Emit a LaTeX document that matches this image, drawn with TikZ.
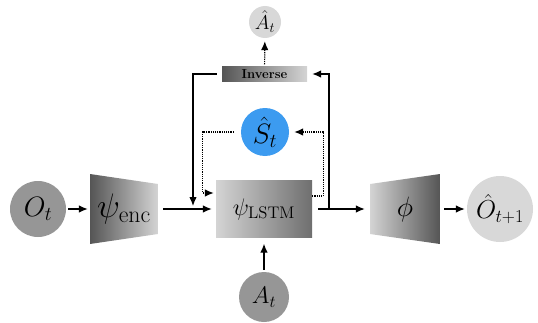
\documentclass[tikz,border=0pt]{standalone}
\usepackage{fix-cm}
\usepackage{amsmath}
\usepackage{tikz}
\usetikzlibrary{arrows.meta}
\definecolor{darkgrey}{RGB}{85,85,85}
\definecolor{lightgrey}{RGB}{212,212,212}
\definecolor{midgrey}{RGB}{150,150,150}
\definecolor{palegrey}{RGB}{216,216,216}
\definecolor{stateblue}{RGB}{60,155,240}
\tikzset{
	main node/.style={circle,fill=midgrey,inner sep=0pt},
	pale node/.style={circle,fill=palegrey,inner sep=0pt},
	box node/.style={rectangle,inner sep=0pt},
	link/.style={->,line width=1.2pt},
	dotlink/.style={->,line width=1.2pt,densely dotted}
}

\begin{document}
\begin{tikzpicture}[x=1pt,y=1pt,>={Latex[length=9pt,width=7.5pt]}]
  \useasboundingbox (0,0) rectangle (538,322);
  \node [main node,minimum size=56pt] (Ot) at (38,113) {\fontsize{28}{30}\selectfont$O_t$};
  \node [box node,minimum width=68pt,minimum height=70pt,
         path picture={\shade[left color=darkgrey,right color=lightgrey]
           (path picture bounding box.north west) -- ([yshift=-10pt]path picture bounding box.north east)
           -- ([yshift=10pt]path picture bounding box.south east) -- (path picture bounding box.south west) -- cycle;}]
        (enc) at (124,113) {\fontsize{34}{36}\selectfont$\psi_{\mathrm{enc}}$};
  \node [box node,minimum width=96pt,minimum height=57pt,left color=lightgrey,right color=darkgrey!80!lightgrey]
        (lstm) at (264,113) {\fontsize{24}{26}\selectfont$\psi_{\mathrm{LSTM}}$};
  \node [box node,minimum width=70pt,minimum height=70pt,
         path picture={\shade[left color=lightgrey,right color=darkgrey]
           ([yshift=-10pt]path picture bounding box.north west) -- (path picture bounding box.north east)
           -- (path picture bounding box.south east) -- ([yshift=10pt]path picture bounding box.south west) -- cycle;}]
        (phi) at (405,113) {\fontsize{28}{30}\selectfont$\phi$};
  \node [pale node,minimum size=66pt] (Ohat) at (500,113) {\fontsize{26}{28}\selectfont$\hat{O}_{t+1}$};
  \node [main node,minimum size=50pt] (At) at (264,25) {\fontsize{24}{26}\selectfont$A_t$};
  \node [circle,fill=stateblue,inner sep=0pt,minimum size=48pt] (Shat) at (265,190) {\fontsize{28}{30}\selectfont$\hat{S}_t$};
  \node [box node,minimum width=85pt,minimum height=15pt,left color=darkgrey,right color=lightgrey]
        (inv) at (264.5,248) {\fontsize{13}{14}\selectfont\textbf{Inverse}};
  \node [pale node,minimum size=32pt] (Ahat) at (265,300) {\fontsize{20}{22}\selectfont$\hat{A}_t$};
  \coordinate (merge) at (193,116);
  \coordinate (split) at (329,113);
  % main path
  \draw [link,shorten <=2pt,shorten >=2pt] (Ot) -- (enc);
  \draw [link,shorten <=5pt,shorten >=4pt] (enc) -- (lstm);
  \draw [link,shorten <=6pt,shorten >=5pt] (lstm) -- (phi);
  \draw [link,shorten <=4pt,shorten >=2pt] (phi) -- (Ohat);
  \draw [link,shorten <=2pt,shorten >=6pt] (At) -- (lstm);
  % inverse model
  \draw [link,shorten <=5pt] (inv.west) -| (merge);
  \draw [link,shorten >=5pt] (split) |- (inv.east);
  \draw [dotlink,shorten <=2pt,shorten >=3pt] (inv) -- (Ahat);
  % recurrent state
  \draw [dotlink,shorten <=7pt,shorten >=2pt] (Shat.west) -- ++(-38,0) |- ([yshift=16pt]lstm.west);
  \draw [dotlink,shorten >=5pt] ([yshift=13pt]lstm.east) -- ++(11,0) |- (Shat.east);
\end{tikzpicture}
\end{document}
